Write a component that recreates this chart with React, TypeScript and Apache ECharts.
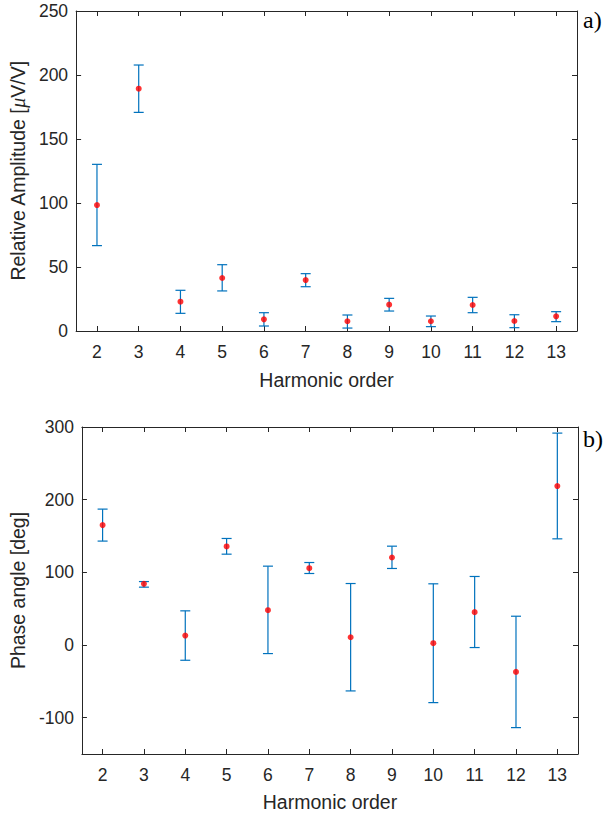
import React, { useEffect, useRef } from "react";
import * as echarts from "echarts";

const categories = ["2", "3", "4", "5", "6", "7", "8", "9", "10", "11", "12", "13"];

const ampValue = [98.4, 189.3, 22.9, 41.4, 9.1, 39.8, 7.6, 20.6, 7.6, 20.3, 7.8, 11.5];
const ampLow = [66.7, 170.8, 13.8, 31.3, 3.9, 34.6, 2.3, 15.6, 3.4, 14.3, 2.6, 7.3];
const ampHigh = [130.2, 207.8, 31.8, 51.8, 14.3, 44.8, 12.5, 25.5, 11.7, 26.3, 12.7, 15.1];

const phaseValue = [165, 84.2, 13, 135.6, 47.9, 105.7, 10.7, 120.4, 2.5, 45.2, -37, 218.7];
const phaseLow = [143, 79.6, -21, 125, -11.8, 98.4, -63.2, 105.3, -79.3, -3.5, -113.7, 146.1];
const phaseHigh = [187, 87.3, 47, 146.6, 108.5, 113.5, 84.6, 136, 84.2, 94.3, 39.6, 291.6];

const ampTicks = [0, 50, 100, 150, 200, 250];
const phaseTicks = [-100, 0, 100, 200, 300];

const TEXT = "#262626";
const BLUE = "#0072BD";
const FONT = "'Liberation Sans', Arial, sans-serif";
const SERIF = "'Liberation Serif', 'Times New Roman', serif";

function renderErrorBar(params: any, api: any) {
  const x = api.value(0);
  const lo = api.coord([x, api.value(1)]);
  const hi = api.coord([x, api.value(2)]);
  const hw = 5;
  const style = { stroke: BLUE, lineWidth: 1.2 };
  return {
    type: "group",
    children: [
      { type: "line", shape: { x1: lo[0], y1: lo[1], x2: hi[0], y2: hi[1] }, style },
      { type: "line", shape: { x1: lo[0] - hw, y1: lo[1], x2: lo[0] + hw, y2: lo[1] }, style },
      { type: "line", shape: { x1: hi[0] - hw, y1: hi[1], x2: hi[0] + hw, y2: hi[1] }, style },
    ],
  };
}

function xAxes(gridIndex: number, nameGap: number) {
  const common = {
    type: "category" as const,
    data: categories,
    gridIndex,
    boundaryGap: true,
    axisLine: { show: true, onZero: false, lineStyle: { color: TEXT, width: 1 } },
    axisTick: { show: true, inside: true, length: 5, alignWithLabel: true, lineStyle: { color: TEXT } },
    splitLine: { show: false },
  };
  return [
    {
      ...common,
      position: "bottom",
      name: "Harmonic order",
      nameLocation: "middle",
      nameGap,
      nameTextStyle: { color: TEXT, fontSize: 19.5, fontFamily: FONT },
      axisLabel: { show: true, color: TEXT, fontSize: 17.5, fontFamily: FONT, margin: 12 },
    },
    {
      ...common,
      position: "top",
      axisLabel: { show: false },
    },
  ];
}

function yAxes(gridIndex: number, min: number, max: number, ticks: number[], name: string, nameGap: number, rich?: any) {
  const common = {
    type: "value" as const,
    gridIndex,
    min,
    max,
    axisLine: { show: true, onZero: false, lineStyle: { color: TEXT, width: 1 } },
    splitLine: { show: false },
  };
  return [
    {
      ...common,
      position: "left",
      name,
      nameLocation: "middle",
      nameGap,
      nameRotate: 90,
      nameTextStyle: { color: TEXT, fontSize: 19.5, fontFamily: FONT, rich },
      axisTick: { show: true, inside: true, length: 5, lineStyle: { color: TEXT }, customValues: ticks },
      axisLabel: { show: true, color: TEXT, fontSize: 17.5, fontFamily: FONT, margin: 8, customValues: ticks },
    },
    {
      ...common,
      position: "right",
      axisTick: { show: true, inside: true, length: 5, lineStyle: { color: TEXT }, customValues: ticks },
      axisLabel: { show: false, customValues: ticks },
    },
  ];
}

export default function App() {
  const ref = useRef<HTMLDivElement>(null);

  useEffect(() => {
    if (!ref.current) return;
    const chart = echarts.init(ref.current, null, { renderer: "svg" });
    const muRich = {
      mu: { fontStyle: "italic", fontFamily: SERIF, fontSize: 20, color: TEXT },
    };
    chart.setOption({
      animation: false,
      backgroundColor: "#ffffff",
      grid: [
        { left: 74, top: 11, width: 503, height: 320, containLabel: false },
        { left: 75, top: 427, width: 503, height: 327, containLabel: false },
      ],
      xAxis: [...xAxes(0, 39), ...xAxes(1, 38)],
      yAxis: [
        ...yAxes(0, 0, 250, ampTicks, "Relative Amplitude [{mu|μ}V/V]", 44, muRich),
        ...yAxes(1, -150, 300, phaseTicks, "Phase angle [deg]", 53),
      ],
      graphic: [
        {
          type: "text",
          x: 583,
          y: 8,
          style: { text: "a)", fontSize: 24, fontFamily: SERIF, fill: "#000" },
        },
        {
          type: "text",
          x: 583,
          y: 427,
          style: { text: "b)", fontSize: 24, fontFamily: SERIF, fill: "#000" },
        },
      ],
      series: [
        {
          type: "custom",
          xAxisIndex: 0,
          yAxisIndex: 0,
          renderItem: renderErrorBar,
          encode: { x: 0, y: [1, 2] },
          data: categories.map((_, i) => [i, ampLow[i], ampHigh[i]]),
          z: 2,
        },
        {
          type: "scatter",
          xAxisIndex: 0,
          yAxisIndex: 0,
          symbol: "circle",
          symbolSize: 6,
          itemStyle: { color: "#ff0000" },
          data: ampValue,
          z: 3,
        },
        {
          type: "custom",
          xAxisIndex: 2,
          yAxisIndex: 2,
          renderItem: renderErrorBar,
          encode: { x: 0, y: [1, 2] },
          data: categories.map((_, i) => [i, phaseLow[i], phaseHigh[i]]),
          z: 2,
        },
        {
          type: "scatter",
          xAxisIndex: 2,
          yAxisIndex: 2,
          symbol: "circle",
          symbolSize: 6,
          itemStyle: { color: "#ff0000" },
          data: phaseValue,
          z: 3,
        },
      ],
    });
    return () => chart.dispose();
  }, []);

  return (
    <div style={{ position: "absolute", left: 0, top: 0, width: 605, height: 816, background: "#fff" }}>
      <div ref={ref} style={{ width: 605, height: 816 }} />
    </div>
  );
}
